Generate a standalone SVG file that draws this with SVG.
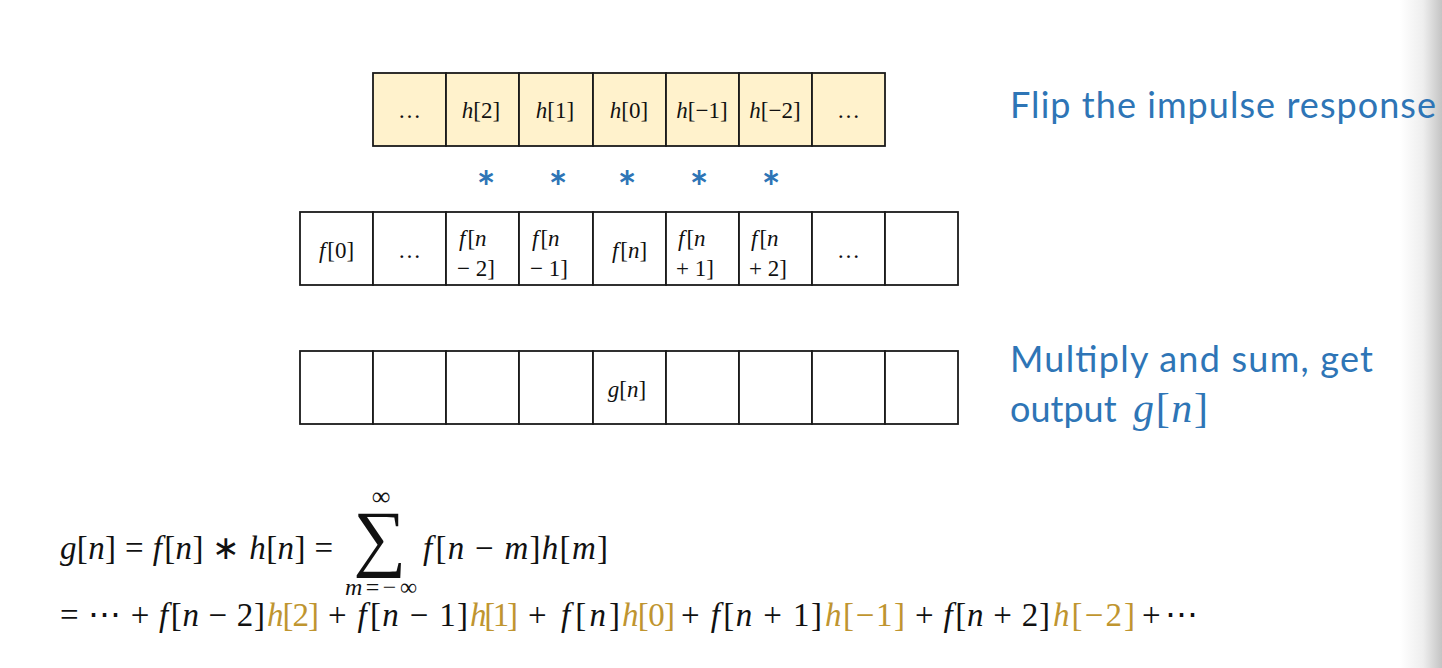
<svg xmlns="http://www.w3.org/2000/svg" width="1442" height="668" viewBox="0 0 1442 668">
<style>
.cell{fill:#ffffff;stroke:#1a1a1a;stroke-width:1.8}
.hcell{fill:#FFF2CC;stroke:#1a1a1a;stroke-width:1.8}
.m{font-family:"Liberation Serif",serif;font-size:23px;fill:#111}
.mi{font-style:italic}
.lbl{font-family:Lato,"Open Sans",sans-serif;font-size:36px;fill:#2E75B6}
.ast{font-family:Lato,sans-serif;font-weight:bold;font-size:44px;fill:#2E75B6;text-anchor:middle}
.eq{font-family:"Liberation Serif",serif;font-size:33px;fill:#111}
.gold{fill:#BF9530}
</style>
<defs>
<linearGradient id="shade" x1="1400" y1="0" x2="1442" y2="0" gradientUnits="userSpaceOnUse">
<stop offset="0" stop-color="#ffffff"/>
<stop offset="0.55" stop-color="#eeeeee"/>
<stop offset="1" stop-color="#c4c4c4"/>
</linearGradient>
</defs>
<rect x="0" y="0" width="1442" height="668" fill="#ffffff"/>
<rect x="1400" y="0" width="42" height="668" fill="url(#shade)"/>

<g id="h-row">
<rect class="hcell" x="373" y="73" width="73" height="73"/>
<rect class="hcell" x="446" y="73" width="73" height="73"/>
<rect class="hcell" x="519" y="73" width="74" height="73"/>
<rect class="hcell" x="593" y="73" width="73" height="73"/>
<rect class="hcell" x="666" y="73" width="73" height="73"/>
<rect class="hcell" x="739" y="73" width="73" height="73"/>
<rect class="hcell" x="812" y="73" width="73" height="73"/>
<g class="m" text-anchor="middle">
<text x="409.5" y="118">…</text>
<text x="481" y="118"><tspan class="mi">h</tspan>[2]</text>
<text x="555" y="118"><tspan class="mi">h</tspan>[1]</text>
<text x="629" y="118"><tspan class="mi">h</tspan>[0]</text>
<text x="702" y="118"><tspan class="mi">h</tspan>[−1]</text>
<text x="775" y="118"><tspan class="mi">h</tspan>[−2]</text>
<text x="848.5" y="118">…</text>
</g>
</g>

<g id="asterisks">
<text class="ast" x="486" y="203">*</text>
<text class="ast" x="558" y="203">*</text>
<text class="ast" x="627" y="203">*</text>
<text class="ast" x="699" y="203">*</text>
<text class="ast" x="771" y="203">*</text>
</g>

<g id="f-row">
<rect class="cell" x="300" y="212" width="73" height="73"/>
<rect class="cell" x="373" y="212" width="73" height="73"/>
<rect class="cell" x="446" y="212" width="73" height="73"/>
<rect class="cell" x="519" y="212" width="74" height="73"/>
<rect class="cell" x="593" y="212" width="73" height="73"/>
<rect class="cell" x="666" y="212" width="73" height="73"/>
<rect class="cell" x="739" y="212" width="73" height="73"/>
<rect class="cell" x="812" y="212" width="73" height="73"/>
<rect class="cell" x="885" y="212" width="73" height="73"/>
<g class="m">
<text x="336.5" y="258" text-anchor="middle"><tspan class="mi">f</tspan><tspan dx="2">[0]</tspan></text>
<text x="409.5" y="258" text-anchor="middle">…</text>
<text x="459" y="246"><tspan class="mi">f</tspan><tspan dx="2">[</tspan><tspan class="mi">n</tspan></text>
<text x="457" y="276">− 2]</text>
<text x="532" y="246"><tspan class="mi">f</tspan><tspan dx="2">[</tspan><tspan class="mi">n</tspan></text>
<text x="530" y="276">− 1]</text>
<text x="629.5" y="258" text-anchor="middle"><tspan class="mi">f</tspan><tspan dx="2">[</tspan><tspan class="mi">n</tspan>]</text>
<text x="678" y="246"><tspan class="mi">f</tspan><tspan dx="2">[</tspan><tspan class="mi">n</tspan></text>
<text x="676" y="276">+ 1]</text>
<text x="751" y="246"><tspan class="mi">f</tspan><tspan dx="2">[</tspan><tspan class="mi">n</tspan></text>
<text x="749" y="276">+ 2]</text>
<text x="848.5" y="258" text-anchor="middle">…</text>
</g>
</g>

<g id="g-row">
<rect class="cell" x="300" y="351" width="73" height="73"/>
<rect class="cell" x="373" y="351" width="73" height="73"/>
<rect class="cell" x="446" y="351" width="73" height="73"/>
<rect class="cell" x="519" y="351" width="74" height="73"/>
<rect class="cell" x="593" y="351" width="73" height="73"/>
<rect class="cell" x="666" y="351" width="73" height="73"/>
<rect class="cell" x="739" y="351" width="73" height="73"/>
<rect class="cell" x="812" y="351" width="73" height="73"/>
<rect class="cell" x="885" y="351" width="73" height="73"/>
<text class="m" x="627" y="397" text-anchor="middle"><tspan class="mi">g</tspan>[<tspan class="mi">n</tspan>]</text>
</g>

<g id="labels">
<text class="lbl" x="1010" y="118" textLength="426" lengthAdjust="spacing">Flip the impulse response</text>
<text class="lbl" x="1010" y="372" textLength="363" lengthAdjust="spacing">Multiply and sum, get</text>
<text class="lbl" x="1010" y="422">output</text>
<text x="1133" y="422" textLength="75" lengthAdjust="spacing" font-family="'Liberation Serif',serif" font-size="42" fill="#2E75B6"><tspan font-style="italic">g</tspan>[<tspan font-style="italic">n</tspan>]</text>
</g>

<g id="formula">
<text class="eq" x="60" y="559" textLength="273" lengthAdjust="spacing"><tspan class="mi">g</tspan>[<tspan class="mi">n</tspan>] = <tspan class="mi">f</tspan><tspan dx="2">[</tspan><tspan class="mi">n</tspan>] ∗ <tspan class="mi">h</tspan>[<tspan class="mi">n</tspan>] =</text>
<text x="380" y="562" font-family="'Liberation Serif',serif" font-size="74" text-anchor="middle" fill="#111">∑</text>
<text x="381" y="505" font-family="'Liberation Serif',serif" font-size="26" text-anchor="middle" fill="#111">∞</text>
<text x="345" y="595" textLength="72" lengthAdjust="spacing" font-family="'Liberation Serif',serif" font-size="24" fill="#111"><tspan font-style="italic">m</tspan>=−∞</text>
<text class="eq" x="423" y="559" textLength="185" lengthAdjust="spacing"><tspan class="mi">f</tspan><tspan dx="2">[</tspan><tspan class="mi">n</tspan> − <tspan class="mi">m</tspan>]<tspan class="mi">h</tspan>[<tspan class="mi">m</tspan>]</text>

<text class="eq" x="60" y="626" textLength="205" lengthAdjust="spacing">= ⋯ + <tspan class="mi">f</tspan><tspan dx="2">[</tspan><tspan class="mi">n</tspan> − 2]</text>
<text class="eq gold" x="267" y="626" textLength="52" lengthAdjust="spacing"><tspan class="mi">h</tspan>[2]</text>
<text class="eq" x="328" y="626" textLength="140" lengthAdjust="spacing">+ <tspan class="mi">f</tspan><tspan dx="2">[</tspan><tspan class="mi">n</tspan> − 1]</text>
<text class="eq gold" x="470" y="626" textLength="48" lengthAdjust="spacing"><tspan class="mi">h</tspan>[1]</text>
<text class="eq" x="528" y="626" textLength="92" lengthAdjust="spacing">+ <tspan class="mi">f</tspan><tspan dx="2">[</tspan><tspan class="mi">n</tspan>]</text>
<text class="eq gold" x="622" y="626" textLength="53" lengthAdjust="spacing"><tspan class="mi">h</tspan>[0]</text>
<text class="eq" x="681" y="626" textLength="141" lengthAdjust="spacing">+ <tspan class="mi">f</tspan><tspan dx="2">[</tspan><tspan class="mi">n</tspan> + 1]</text>
<text class="eq gold" x="825" y="626" textLength="80" lengthAdjust="spacing"><tspan class="mi">h</tspan>[−1]</text>
<text class="eq" x="915" y="626" textLength="135" lengthAdjust="spacing">+ <tspan class="mi">f</tspan><tspan dx="2">[</tspan><tspan class="mi">n</tspan> + 2]</text>
<text class="eq gold" x="1053" y="626" textLength="82" lengthAdjust="spacing"><tspan class="mi">h</tspan>[−2]</text>
<text class="eq" x="1142" y="626" textLength="56" lengthAdjust="spacing">+ ⋯</text>
</g>
</svg>
